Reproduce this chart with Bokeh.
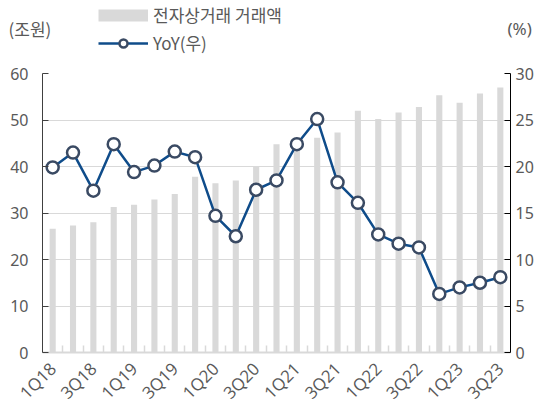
import math
import numpy as np
from bokeh.plotting import figure
from bokeh.models import (ColumnDataSource, Range1d, LinearAxis, FixedTicker,
                          Legend, LegendItem, Label, Grid)
from bokeh.layouts import column, row
from bokeh.embed import file_html
from bokeh.resources import INLINE

quarters = ["1Q18", "2Q18", "3Q18", "4Q18", "1Q19", "2Q19", "3Q19", "4Q19",
            "1Q20", "2Q20", "3Q20", "4Q20", "1Q21", "2Q21", "3Q21", "4Q21",
            "1Q22", "2Q22", "3Q22", "4Q22", "1Q23", "2Q23", "3Q23"]
ecommerce = [26.6, 27.3, 28.0, 31.3, 31.8, 32.9, 34.1, 37.8, 36.4, 37.0, 40.1, 44.8,
             45.0, 46.2, 47.3, 52.0, 50.2, 51.6, 52.8, 55.3, 53.7, 55.7, 57.0]
yoy = [19.9, 21.5, 17.4, 22.4, 19.4, 20.1, 21.6, 21.0, 14.7, 12.5, 17.5, 18.5,
       22.4, 25.1, 18.3, 16.1, 12.7, 11.7, 11.3, 6.3, 7.0, 7.5, 8.1]
left_ticks = [0, 10, 20, 30, 40, 50, 60]
right_ticks = [0, 5, 10, 15, 20, 25, 30]

idx = list(range(len(quarters)))
src = ColumnDataSource(dict(x=idx, q=quarters, amt=ecommerce, yoy=yoy))

FONT = "Noto Sans"
KFONT = "Noto Sans CJK KR"
TXT = "#595959"
GRID = "#d9d9d9"
LINE = "#0f4c8a"
MARK = "#3a4a63"

# ---------- header: legend and unit labels ----------
H_HEAD = 63
head = figure(width=535, height=H_HEAD, output_backend="svg",
              toolbar_location=None, x_range=Range1d(0, 535),
              y_range=Range1d(0, H_HEAD), x_axis_type=None, y_axis_type=None,
              min_border=0)
head.outline_line_color = None
head.grid.visible = False
empty = dict(x=np.array([np.nan]), y=np.array([np.nan]))
key_bar = head.line(x="x", y="y", source=ColumnDataSource(empty),
                    line_color=GRID, line_width=12, line_cap="butt")
key_line = head.line(x="x", y="y", source=ColumnDataSource(empty),
                     line_color=LINE, line_width=2.5)
key_mark = head.scatter(x="x", y="y", source=ColumnDataSource(empty), size=11,
                        fill_color="white", line_color=MARK, line_width=2.5)
legend = Legend(items=[LegendItem(label="전자상거래 거래액", renderers=[key_bar]),
                       LegendItem(label="YoY(우)", renderers=[key_line, key_mark])],
                location=(98, 8), orientation="vertical",
                glyph_width=50, glyph_height=20, label_height=20,
                label_standoff=5, spacing=3, padding=0, margin=0,
                label_text_font=KFONT, label_text_font_size="17px",
                label_text_color=TXT, border_line_color=None,
                background_fill_alpha=0)
head.add_layout(legend, "center")
head.add_layout(Label(x=8, y=H_HEAD - 28, text="(조원)", text_font=KFONT,
                      text_font_size="17px", text_color=TXT,
                      text_baseline="middle"))
head.add_layout(Label(x=507, y=H_HEAD - 28, text="(%)", text_font=FONT,
                      text_font_size="17px", text_color=TXT,
                      text_baseline="middle"))

# ---------- main chart ----------
p = figure(frame_width=468, frame_height=279, output_backend="svg",
           toolbar_location=None, x_range=Range1d(-0.5, len(quarters) - 0.5),
           y_range=Range1d(0, 60), min_border_left=42, min_border_right=25,
           min_border_top=10, min_border_bottom=62, x_axis_type=None,
           y_axis_type=None)
p.outline_line_color = None
p.extra_y_ranges = {"yoy": Range1d(0, 30)}

p.vbar(x="x", top="amt", width=0.3, source=src, fill_color=GRID, line_color=None)
p.line(x="x", y="yoy", source=src, y_range_name="yoy", line_color=LINE,
       line_width=2.5)
p.scatter(x="x", y="yoy", source=src, y_range_name="yoy", size=12,
          fill_color="white", line_color=MARK, line_width=2.5)

xaxis = LinearAxis(ticker=FixedTicker(ticks=idx[::2],
                                      minor_ticks=[i + 0.5 for i in idx[:-1]]))
xaxis.major_label_overrides = {i: quarters[i] for i in idx[::2]}
xaxis.major_label_orientation = math.pi / 4
xaxis.major_label_text_font = "Open Sans"
xaxis.major_label_text_font_size = "17px"
xaxis.major_label_text_color = TXT
xaxis.major_label_standoff = 13
xaxis.axis_line_color = GRID
xaxis.axis_line_width = 2
xaxis.major_tick_in = 0
xaxis.major_tick_out = 0
xaxis.minor_tick_in = 7
xaxis.minor_tick_out = 0
xaxis.minor_tick_line_color = GRID
xaxis.minor_tick_line_width = 1.5
p.add_layout(xaxis, "below")

laxis = LinearAxis(ticker=FixedTicker(ticks=left_ticks, minor_ticks=[]))
laxis.major_label_text_font = FONT
laxis.major_label_text_font_size = "16px"
laxis.major_label_text_color = TXT
laxis.major_label_standoff = 14
laxis.axis_line_color = "#404040"
laxis.major_tick_line_color = "#404040"
laxis.major_tick_in = 6
laxis.major_tick_out = 0
p.add_layout(laxis, "left")

raxis = LinearAxis(y_range_name="yoy",
                   ticker=FixedTicker(ticks=right_ticks, minor_ticks=[]))
raxis.major_label_text_font = FONT
raxis.major_label_text_font_size = "16px"
raxis.major_label_text_color = TXT
raxis.major_label_standoff = 5
raxis.axis_line_color = "black"
raxis.major_tick_line_color = "black"
raxis.major_tick_in = 6
raxis.major_tick_out = 0
p.add_layout(raxis, "right")

p.add_layout(Grid(dimension=1, ticker=laxis.ticker, grid_line_color=GRID,
                  grid_line_width=1.2))

layout = column(row(head), p, spacing=0)
open("out.html", "w").write(file_html(layout, INLINE))
